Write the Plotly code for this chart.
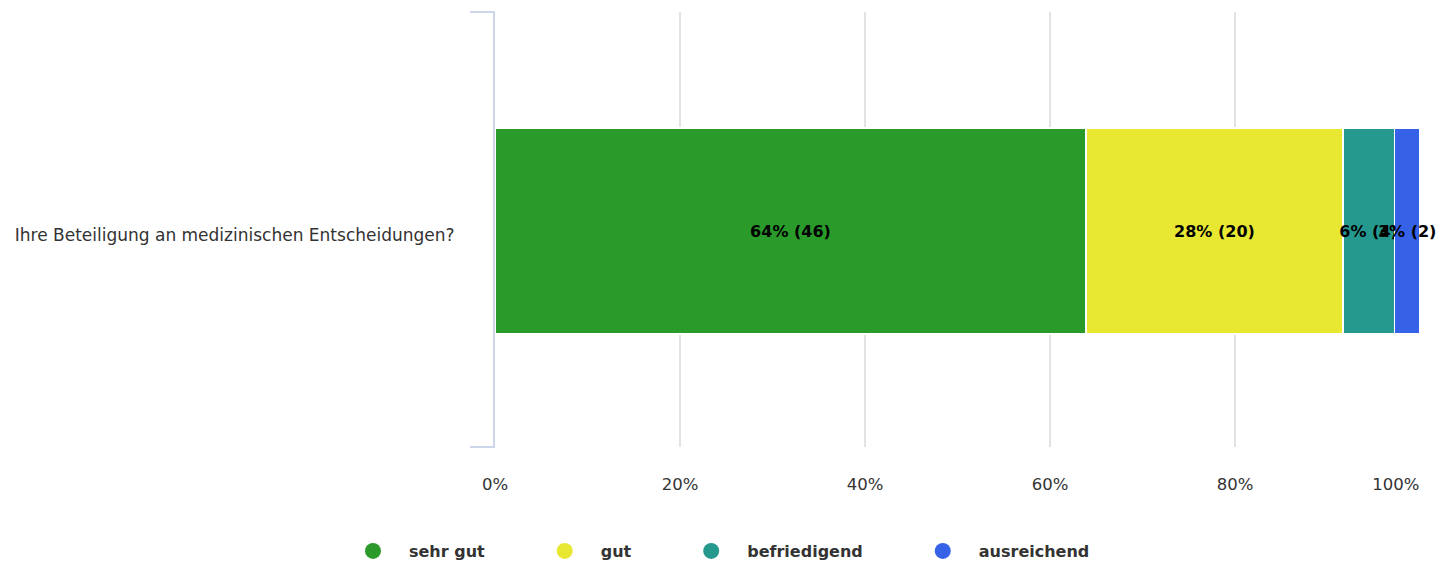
import plotly.graph_objects as go

categories = ["Ihre Beteiligung an medizinischen Entscheidungen?"]
series_names = ["sehr gut", "gut", "befriedigend", "ausreichend"]
counts = [46, 20, 4, 2]
colors = ["#2a9a2a", "#e8e833", "#26998f", "#3562e6"]
x_ticks = [0, 20, 40, 60, 80, 100]
x_tick_labels = ["0%", "20%", "40%", "60%", "80%", "100%"]

total = sum(counts)
FONT = "DejaVu Sans"
PAD = "\u00a0" * 7

fig = go.Figure()
for i, (name, cnt, col) in enumerate(zip(series_names, counts, colors)):
    pct = cnt / total * 100
    fig.add_trace(go.Bar(
        y=categories, x=[pct], orientation="h", name=name,
        marker=dict(color=col, line=dict(color="white", width=1.5)),
        text=[f"<b>{round(pct)}% ({cnt})</b>"],
        textposition="inside", insidetextanchor="middle",
        textfont=dict(family=FONT, size=16, color="black"),
        textangle=0, constraintext="none", cliponaxis=False,
        showlegend=False, width=0.474, hoverinfo="skip",
    ))
    legend_name = name + (PAD if i < len(series_names) - 1 else "")
    fig.add_trace(go.Scatter(
        x=[None], y=[None], mode="markers", name=legend_name,
        marker=dict(color=col, size=17, symbol="circle"),
        showlegend=True, xaxis="x2",
    ))

tick_common = dict(
    range=[0, 100], zeroline=False, showline=False,
    ticks="outside", tickcolor="rgba(0,0,0,0)",
    tickfont=dict(family=FONT, size=16.5, color="#333333"),
    showgrid=True, gridcolor="#e3e3e3", gridwidth=2,
    fixedrange=True,
)

fig.update_layout(
    barmode="stack",
    width=1444, height=557,
    margin=dict(l=487, r=32, t=4, b=118),
    plot_bgcolor="white", paper_bgcolor="white",
    font=dict(family=FONT, size=17, color="#333333"),
    uniformtext=dict(minsize=16, mode="show"),
    xaxis=dict(
        tickvals=x_ticks[:-1], ticktext=x_tick_labels[:-1], ticklen=22,
        **tick_common,
    ),
    xaxis2=dict(
        overlaying="x", side="bottom", anchor="y",
        tickvals=x_ticks[-1:], ticktext=x_tick_labels[-1:],
        ticklabelposition="outside left", ticklen=22, ticklabelstandoff=22,
        **tick_common,
    ),
    yaxis=dict(
        type="category", range=[-0.4965, 0.5035],
        showline=True, linecolor="#ccd6eb", linewidth=2,
        showgrid=False, zeroline=False,
        ticks="outside", ticklen=35, tickcolor="rgba(0,0,0,0)",
        ticklabelshift=4,
        tickfont=dict(family=FONT, size=17, color="#333333"),
        fixedrange=True,
    ),
    legend=dict(
        orientation="h", xref="container", yref="container",
        x=0.4903, xanchor="center", y=0.0251, yanchor="middle",
        font=dict(family=FONT, size=16, color="#333333", weight="bold"),
        itemwidth=62, traceorder="normal",
    ),
    shapes=[
        dict(type="line", xref="paper", yref="paper", xsizemode="pixel", xanchor=0,
             x0=-25, x1=0, y0=1, y1=1, line=dict(color="#ccd6eb", width=2)),
        dict(type="line", xref="paper", yref="paper", xsizemode="pixel", xanchor=0,
             x0=-25, x1=0, y0=0, y1=0, line=dict(color="#ccd6eb", width=2)),
    ],
)

fig.write_html("out.html")
